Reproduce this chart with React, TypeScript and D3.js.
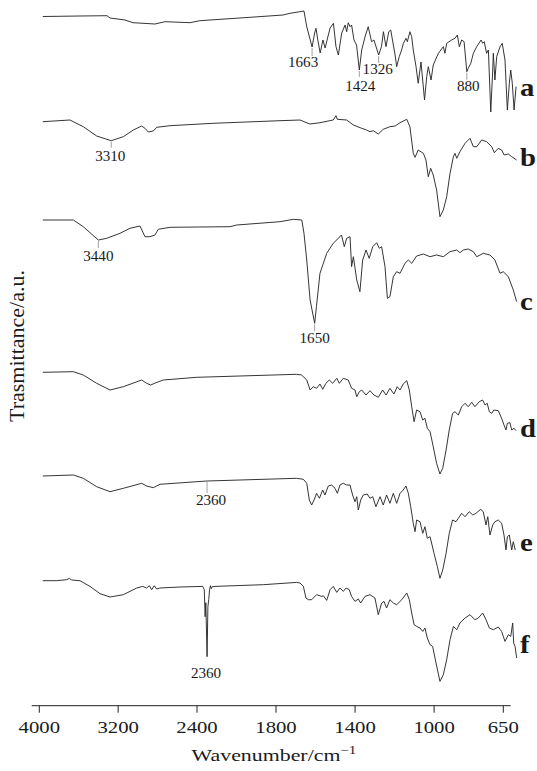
import React from "react";
import * as d3 from "d3";

// ---------- data ----------
const tickValues = [4000, 3200, 2400, 1800, 1400, 1000, 650];
const seriesNames = ["a", "b", "c", "d", "e", "f"];
// vertical offset of each spectrum (a.u.)
const seriesOffsets = [689, 583.3, 485, 332.7, 229, 124.3];

const specA: [number, number][] = [
  [4000, -0.5], [3625, 0], [3353, 0.3], [3322, -2], [3171, -4], [3091, -6.7], [2869, -8], [2768, -5.7],
  [2516, -6.7], [2416, -4.7], [2051, -1.3], [1814, 1], [1775, 2.7], [1724, 4.3], [1704, 5], [1690, -10.7],
  [1663, -31], [1650, -17], [1643, -12.3], [1634, -24], [1622, -37], [1608, -24], [1597, -32], [1572, -12],
  [1555, -7.3], [1542, -30.7], [1530, -39], [1513, -17], [1496, -9], [1488, -15.7], [1480, -6.7], [1471, -10.7],
  [1463, -9], [1451, -24], [1438, -29], [1424, -54], [1412, -34], [1395, -20.7], [1379, -10.7], [1362, -25.7],
  [1350, -24], [1326, -39], [1312, -30.7], [1302, -15.7], [1289, -30.7], [1275, -15.7], [1265, -14], [1243, -39],
  [1235, -50.7], [1222, -40.7], [1210, -34], [1201, -27.3], [1188, -22.3], [1181, -25.7], [1168, -15.7], [1159, -20.7],
  [1151, -34], [1137, -50.7], [1126, -67.3], [1112, -46], [1094, -84], [1083, -60.7], [1075, -50.7], [1061, -64],
  [1050, -49], [1024, -37.3], [999, -30.7], [991, -37.3], [982, -27.3], [957, -24], [940, -22.3], [928, -19],
  [918, -30.7], [906, -24], [894, -25.7], [880, -55.7], [873, -52.3], [860, -47.3], [847, -37.3], [830, -30.7],
  [808, -24], [800, -27.3], [792, -25.7], [780, -37.3], [771, -34], [759, -96], [749, -54], [746, -37.3],
  [738, -64], [729, -40.7], [712, -30.7], [701, -27.3], [687, -44], [675, -94], [665, -67.3], [658, -54],
  [650, -67.3], [641, -94], [631, -70.7],
];

const specB: [number, number][] = [
  [4000, 0], [3726, 1.7], [3592, -5], [3457, -14.3], [3310, -19], [3188, -15], [3088, -8.3], [3003, -4.3],
  [2970, -6.6], [2936, -10.3], [2886, -9.3], [2852, -5.6], [2718, -4], [2317, -1.6], [1836, 1], [1724, 1.7],
  [1674, -2.3], [1623, -1], [1556, 1.7], [1542, 6], [1535, 2.4], [1488, 1.7], [1454, -3.3], [1412, -6.6],
  [1387, -8.3], [1370, -10], [1353, -9], [1328, -12.3], [1303, -7.6], [1269, -5], [1243, -4.3], [1218, -1],
  [1184, 2.4], [1168, -5], [1151, -31.6], [1142, -35.6], [1126, -28.3], [1100, -31.6], [1087, -38.3], [1075, -55],
  [1063, -46.6], [1050, -53.3], [1033, -68.3], [1016, -95], [999, -88.3], [982, -75], [965, -51.6], [948, -35],
  [940, -31.6], [931, -36.6], [915, -30], [889, -21.6], [864, -16.6], [847, -25], [830, -25], [805, -18.3],
  [780, -20], [754, -25], [741, -31], [721, -26.6], [704, -28.3], [691, -33.3], [670, -32.3], [653, -35],
  [628, -38.3],
];

const specC: [number, number][] = [
  [4000, 0], [3692, 0], [3592, -6.7], [3440, -20], [3356, -18.3], [3222, -13.3], [3121, -8.3], [3020, -6],
  [2970, -16.7], [2920, -16.7], [2869, -15], [2836, -9.3], [2718, -7.3], [2195, -6.7], [2147, -5], [1836, -1.7],
  [1758, 0.7], [1715, 0], [1704, -13.3], [1690, -40], [1673, -80], [1650, -103.3], [1641, -86.7], [1623, -53.3],
  [1589, -33.3], [1556, -23.3], [1522, -16.7], [1514, -15], [1500, -26.7], [1488, -18.3], [1471, -16.7], [1463, -46.7],
  [1454, -36.7], [1437, -60], [1421, -71.7], [1407, -40], [1390, -30], [1374, -38.3], [1356, -26.7], [1336, -22.7],
  [1323, -28.3], [1311, -26.7], [1294, -46.7], [1282, -78.3], [1269, -76.7], [1252, -56.7], [1235, -51.7], [1218, -53.3],
  [1193, -43.3], [1176, -40], [1159, -43.3], [1134, -36], [1100, -34], [1066, -36.7], [1033, -35], [999, -36.7],
  [965, -31.7], [931, -30], [915, -32.7], [898, -30], [873, -29], [847, -31.7], [830, -36.7], [813, -35],
  [797, -33.3], [763, -35], [738, -40], [712, -53.3], [696, -51.7], [670, -56.7], [645, -70], [628, -81.7],
];

const specD: [number, number][] = [
  [4000, 0], [3692, 0.6], [3592, -2.7], [3457, -11], [3322, -17.7], [3188, -14.4], [3003, -7.7], [2953, -11],
  [2912, -12.7], [2859, -10.4], [2785, -7.7], [2448, -5], [1741, -2], [1716, -2.7], [1690, -7.7], [1673, -17.7],
  [1657, -14.4], [1640, -16], [1623, -11.7], [1609, -17], [1593, -11], [1576, -7.7], [1559, -11], [1538, -6],
  [1525, -11], [1505, -6], [1480, -7.7], [1463, -16], [1446, -17.7], [1437, -24.4], [1424, -19.4], [1412, -17.7],
  [1390, -22.7], [1370, -18.4], [1350, -22.7], [1328, -25], [1306, -17.7], [1289, -22.7], [1269, -16], [1249, -21.7],
  [1232, -14.4], [1218, -17.7], [1202, -11.7], [1184, -8.4], [1171, -17.7], [1159, -34.4], [1147, -49.4], [1134, -37.7],
  [1117, -39.4], [1103, -47.7], [1092, -46], [1080, -56], [1066, -59.4], [1050, -74.4], [1033, -91], [1016, -101.7],
  [1002, -96], [985, -77.7], [969, -57.7], [952, -41], [940, -39.4], [923, -42.7], [906, -34.4], [889, -31],
  [873, -34.4], [855, -30], [839, -34.4], [817, -29.4], [800, -27.7], [788, -32.7], [777, -31], [766, -39.4],
  [754, -41], [743, -37.7], [721, -38.4], [704, -46], [692, -52.7], [682, -57.7], [675, -51], [662, -50.4],
  [653, -57.7], [641, -56], [631, -58.4],
];

const specE: [number, number][] = [
  [4000, 0], [3692, 1], [3592, -2.3], [3457, -10.7], [3322, -15.7], [3188, -12.3], [3003, -7.3], [2953, -10],
  [2886, -11.7], [2819, -8.3], [2448, -5.7], [2360, -5], [1741, -2.3], [1707, -3.3], [1690, -7.3], [1677, -24],
  [1665, -29], [1653, -24], [1640, -17.3], [1626, -22.3], [1609, -14], [1598, -19], [1581, -10], [1564, -9],
  [1547, -12.3], [1535, -17.3], [1522, -9], [1505, -7.3], [1488, -9], [1471, -9], [1458, -19], [1446, -25.7],
  [1437, -20.7], [1429, -34], [1417, -24], [1404, -19], [1384, -18], [1370, -22.3], [1356, -20.7], [1340, -30.7],
  [1319, -20.7], [1303, -29], [1286, -19], [1269, -27.3], [1252, -17.3], [1235, -27.3], [1218, -17.3], [1202, -14],
  [1188, -10], [1176, -17.3], [1164, -30.7], [1151, -47.3], [1142, -55.7], [1134, -44], [1117, -45.7], [1103, -57.3],
  [1092, -50.7], [1080, -62.3], [1066, -60.7], [1046, -77.3], [1029, -90.7], [1016, -102.3], [1002, -94], [985, -77.3],
  [969, -57.3], [952, -44], [935, -45.7], [923, -42.3], [906, -37.3], [889, -40.7], [868, -35.7], [850, -39],
  [834, -37.3], [810, -33.3], [797, -35.7], [783, -49], [774, -40.7], [763, -59], [749, -49], [738, -45.7],
  [721, -44], [704, -47.3], [692, -59], [682, -74], [675, -60.7], [665, -59], [653, -74], [645, -65.7],
  [635, -74],
];

const specF: [number, number][] = [
  [4000, 0], [3860, 0], [3759, 1], [3733, 2.3], [3709, 0.7], [3625, 0], [3524, -5.7], [3423, -13],
  [3322, -16.3], [3188, -14], [3053, -7.3], [2993, -5.7], [2953, -7.3], [2926, -5], [2902, -9], [2876, -5],
  [2852, -8.3], [2819, -7.3], [2617, -6.3], [2391, -5.7], [2380, -9], [2374, -36], [2369, -22], [2360, -76],
  [2354, -26], [2348, -19], [2342, -9], [2335, -5], [2330, -8], [2322, -6], [2303, -5.7], [1956, -4],
  [1741, -1.7], [1724, -2.3], [1707, -5.7], [1694, -17.3], [1682, -19], [1665, -19], [1640, -14], [1614, -15.7],
  [1606, -15], [1589, -19.7], [1572, -9], [1556, -5.7], [1538, -11.7], [1522, -7.3], [1505, -10.7], [1491, -7.3],
  [1475, -9], [1463, -15.7], [1446, -20.7], [1429, -18.3], [1417, -22.3], [1395, -15.7], [1370, -14], [1345, -17.3],
  [1328, -34], [1311, -22.3], [1299, -20.7], [1286, -27.3], [1269, -19], [1252, -22.3], [1235, -24], [1209, -19],
  [1184, -12.3], [1171, -19], [1159, -32.3], [1147, -44], [1134, -45.7], [1117, -47.3], [1103, -50.7], [1092, -47.3],
  [1080, -57.3], [1066, -64], [1053, -65.7], [1036, -82.3], [1016, -100.7], [999, -94], [982, -79], [965, -59],
  [948, -45.7], [931, -49], [915, -42.3], [889, -37.3], [864, -34], [839, -39], [822, -37.3], [800, -32.3],
  [783, -39], [766, -47.3], [746, -49], [721, -46.3], [704, -50.7], [687, -60.7], [670, -54], [658, -55.7],
  [648, -42.3], [643, -62.3], [636, -65.7], [628, -77.3],
];

const spectra = [specA, specB, specC, specD, specE, specF];

// peak annotations: series index, wavenumber, text
const annSeries = [0, 0, 0, 0, 1, 2, 2, 4, 5];
const annWavenumbers = [1663, 1424, 1326, 880, 3310, 3440, 1650, 2360, 2360];
const annTexts = ["1663", "1424", "1326", "880", "3310", "3440", "1650", "2360", "2360"];

// ---------- layout ----------
const W = 537;
const H = 771;
const FONT = "'Liberation Serif', 'Times New Roman', Times, serif";
// tick length, text dx, text dy (baseline below tick end)
const annLayout = [
  [9, -9, 11], [7, 1, 14], [8, -1, 11], [8, 1.5, 11], [7, -1, 13], [8, 0, 13], [8, 0, 12], [12, 4, 12], [0, -1, 21],
];
const letterDy = [80, 44.3, 90, 64.7, 75, 72.3];
const STRETCH = 1.22;

const xAxis = d3.scaleLinear().domain([4000, 2400, 1800, 650]).range([39.3, 197, 276, 503.3]);
const xPlot = d3.scaleLinear().domain([4000, 2400, 1800, 650]).range([42.8, 201.5, 285, 512.3]);
const yScale = d3.scaleLinear().domain([0, 700]).range([705, 5]);

function valueAt(spec: [number, number][], wn: number): number {
  for (let i = 0; i < spec.length - 1; i++) {
    const [w0, v0] = spec[i];
    const [w1, v1] = spec[i + 1];
    if (wn <= w0 && wn >= w1) {
      const t = w0 === w1 ? 0 : (w0 - wn) / (w0 - w1);
      return v0 + t * (v1 - v0);
    }
  }
  return spec[spec.length - 1][1];
}

function SText(props: {
  x: number;
  y: number;
  size: number;
  sx?: number;
  anchor?: string;
  weight?: string;
  children: React.ReactNode;
}) {
  const { x, y, size, sx = STRETCH, anchor = "middle", weight = "normal", children } = props;
  return (
    <text
      transform={`translate(${x},${y}) scale(${sx},1)`}
      textAnchor={anchor}
      fontFamily={FONT}
      fontSize={size}
      fontWeight={weight}
      fill="#1a1a1a"
    >
      {children}
    </text>
  );
}

export default function App() {
  const axisY = 705.7;
  return (
    <svg
      width={W}
      height={H}
      viewBox={`0 0 ${W} ${H}`}
      style={{ position: "absolute", left: 0, top: 0, background: "#fff" }}
    >
      <rect x={0} y={0} width={W} height={H} fill="#fff" />
      {spectra.map((spec, i) => {
        const off = seriesOffsets[i];
        const line = d3
          .line<[number, number]>()
          .x((d) => xPlot(d[0]))
          .y((d) => yScale(off + d[1]));
        return (
          <path
            key={seriesNames[i]}
            d={line(spec) || ""}
            fill="none"
            stroke="#2a2a2a"
            strokeWidth={0.95}
            strokeLinejoin="round"
          />
        );
      })}
      {spectra.map((_, i) => (
        <SText key={"lab" + i} x={520} y={yScale(seriesOffsets[i]) + letterDy[i]} size={25} sx={1.15} anchor="start" weight="bold">
          {seriesNames[i]}
        </SText>
      ))}
      {annWavenumbers.map((wn, k) => {
        const s = annSeries[k];
        const x = xPlot(wn);
        const y0 = yScale(seriesOffsets[s] + valueAt(spectra[s], wn));
        const [len, dx, dy] = annLayout[k];
        return (
          <g key={"ann" + k}>
            {len > 0 && <line x1={x} x2={x} y1={y0 + 1} y2={y0 + len} stroke="#888" strokeWidth={0.8} />}
            <SText x={x + dx} y={y0 + len + dy} size={14} sx={1.08}>
              {annTexts[k]}
            </SText>
          </g>
        );
      })}
      {/* x axis */}
      <line x1={31.7} x2={510.7} y1={axisY} y2={axisY} stroke="#222" strokeWidth={1} />
      {tickValues.map((t) => (
        <g key={"t" + t}>
          <line x1={xAxis(t)} x2={xAxis(t)} y1={axisY} y2={axisY + 7} stroke="#222" strokeWidth={1} />
          <SText x={xAxis(t)} y={733} size={17}>
            {t}
          </SText>
        </g>
      ))}
      <SText x={274} y={761} size={17.5} sx={1.25}>
        Wavenumber/cm
        <tspan dy={-7} fontSize={12}>
          −1
        </tspan>
      </SText>
      <text
        transform="translate(24,346) rotate(-90)"
        textAnchor="middle"
        fontFamily={FONT}
        fontSize={22}
        fill="#1a1a1a"
      >
        Trasmittance/a.u.
      </text>
    </svg>
  );
}
